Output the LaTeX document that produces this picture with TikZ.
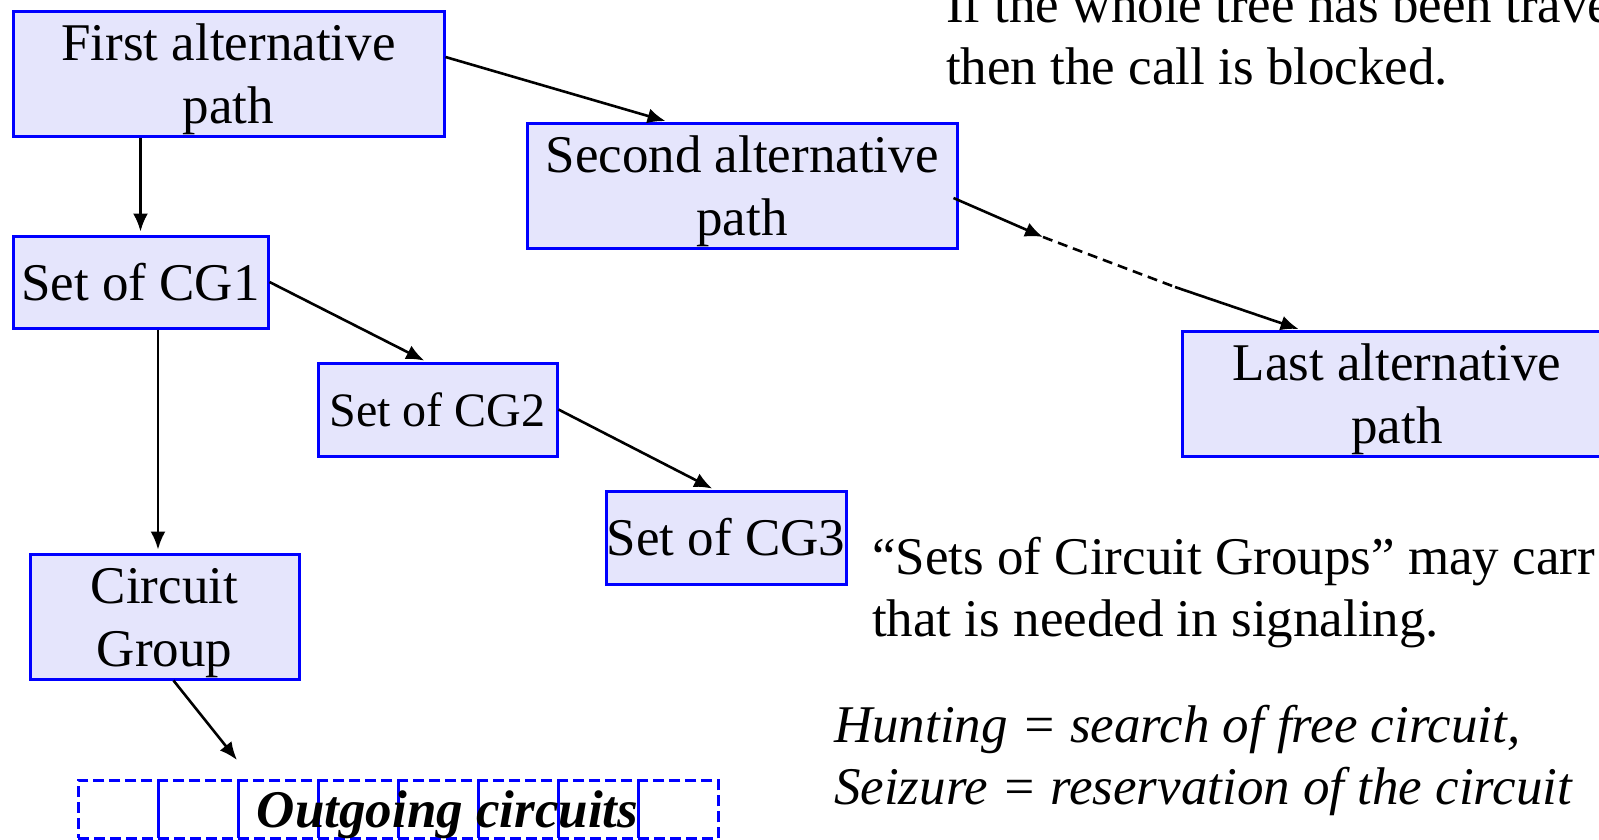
\documentclass[tikz,border=0pt]{standalone}
\usepackage{fontspec}
\setmainfont{Liberation Serif}
\usetikzlibrary{arrows.meta,calc}
\definecolor{boxfill}{RGB}{229,229,252}
\definecolor{boxline}{RGB}{0,0,255}
\newcommand\bigfont{\fontsize{53}{62.5}\selectfont}
\newcommand\midfont{\fontsize{48}{56}\selectfont}
\newcommand\boxstrut{\rule{0pt}{48.5pt}}
\newcommand\notestrut{\rule{0pt}{40pt}}
\begin{document}
\begin{tikzpicture}[x=1pt,y=-1pt,
  box/.style={draw=boxline, fill=boxfill, line width=3pt, inner sep=0pt, align=center, font=\bigfont},
  arr/.style={line width=2.6pt, -{Latex[length=18pt,width=15pt]}, shorten >=1.5pt},
  dashline/.style={line width=2.6pt, dash pattern=on 10pt off 6pt},
  cellbox/.style={draw=boxline, line width=2.8pt, dash pattern=on 11pt off 5pt, minimum width=80pt, minimum height=58pt, inner sep=0pt, anchor=north west},
  note/.style={font=\bigfont, align=left, anchor=north west, inner sep=0pt}]
\useasboundingbox (0,0) rectangle (1599,839);
\clip (0,0) rectangle (1599,839);

% boxes
\node[box, minimum width=431pt, minimum height=125pt] (first) at (228.5,73.5) {\boxstrut First alternative\\path};
\node[box, minimum width=430pt, minimum height=125pt] (second) at (742,185.5) {\boxstrut Second alternative\\path};
\node[box, minimum width=430pt, minimum height=125pt] (last) at (1397,393.5) {\boxstrut Last alternative\\path};
\node[box, minimum width=255pt, minimum height=92pt] (cg1) at (140.5,282) {Set of CG1};
\node[box, font=\midfont, minimum width=239pt, minimum height=93pt] (cg2) at (437.5,409.5) {Set of CG2};
\node[box, minimum width=240pt, minimum height=93pt] (cg3) at (726,537.5) {Set of CG3};
\node[box, minimum width=269pt, minimum height=125pt] (cg) at (164.5,616.5) {\boxstrut Circuit\\Group};

% outgoing circuits
\foreach \i in {0,...,7} \node[cellbox] (cell\i) at (77+80*\i,779) {};
\node[font=\bigfont\bfseries\itshape, anchor=base, inner sep=0pt] (outg) at (447.5,827) {Outgoing circuits};

% notes
\node[note] (topnote) at (946,-18) {\notestrut If the whole tree has been trave\\then the call is blocked.};
\node[note] (setsnote) at (872,534) {\notestrut “Sets of Circuit Groups” may carr\\that is needed in signaling.};
\node[note, font=\bigfont\itshape] (huntnote) at (834,702) {\notestrut Hunting = search of free circuit,\\Seizure = reservation of the circuit};

% connectors
\draw[arr] ([yshift=16.5pt]first.east) -- ([xshift=-75pt]second.north);
\draw[arr, shorten >=3pt] (first.south -| cg1.north) -- (cg1.north);
\draw[arr, shorten >=2pt] (cg1.east) -- ([xshift=-11.5pt]cg2.north);
\draw[arr, shorten >=2pt] (cg2.east) -- ([xshift=-12pt]cg3.north);
\draw[arr, shorten >=3pt] ([xshift=17.5pt]cg1.south) -- ([xshift=17.5pt]cg1.south |- cg.north);
\coordinate (cgend) at (237,760);
\draw[arr, shorten >=0pt] ([xshift=9pt]cg.south) -- (cgend);

\coordinate (m1) at (1043,237);
\coordinate (m2) at (1175,287);
\draw[arr, shorten >=0pt] ([xshift=-5pt,yshift=-12.5pt]second.east) -- (m1);
\draw[dashline] (m1) -- (m2);
\draw[arr] (m2) -- ([xshift=-97pt]last.north);
\end{tikzpicture}
\end{document}
